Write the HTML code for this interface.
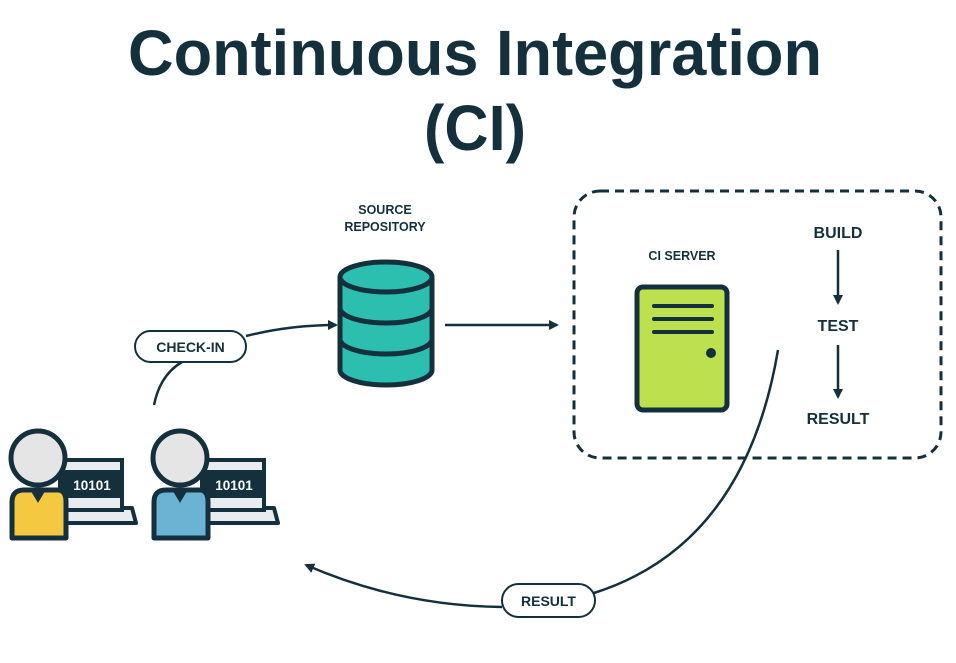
<!DOCTYPE html>
<html><head><meta charset="utf-8"><style>
html,body{margin:0;padding:0;background:#fff;}
svg{display:block;}
text{font-family:"Liberation Sans",Arial,sans-serif;font-weight:bold;fill:#14303d;}
</style></head><body>
<svg width="956" height="663" viewBox="0 0 956 663" xmlns="http://www.w3.org/2000/svg">
<defs>
<marker id="ah" markerWidth="10" markerHeight="10" refX="8" refY="5" orient="auto" markerUnits="userSpaceOnUse">
<path d="M0,0 L10,5 L0,10 z" fill="#14303d"/>
</marker>
</defs>
<text x="475" y="75" font-size="64" text-anchor="middle" textLength="694" lengthAdjust="spacingAndGlyphs">Continuous Integration</text>
<text x="475" y="150" font-size="64" text-anchor="middle" textLength="102" lengthAdjust="spacingAndGlyphs">(CI)</text>

<!-- dashed box -->
<rect x="574" y="191" width="367" height="267" rx="26" fill="none" stroke="#14303d" stroke-width="3" stroke-dasharray="9,6"/>

<!-- source repo -->
<text x="385" y="214" font-size="12.5" text-anchor="middle">SOURCE</text>
<text x="385" y="231" font-size="12.5" text-anchor="middle">REPOSITORY</text>
<g stroke="#14303d" stroke-width="5" fill="#2cbfb0">
<path d="M340,277 L340,370 A46,15 0 0 0 432,370 L432,277"/>
<path d="M340,308 A46,15 0 0 0 432,308" fill="none"/>
<path d="M340,339 A46,15 0 0 0 432,339" fill="none"/>
<ellipse cx="386" cy="277" rx="46" ry="15"/>
</g>
<line x1="445" y1="325" x2="557" y2="325" stroke="#14303d" stroke-width="2.5" marker-end="url(#ah)"/>

<!-- CI server -->
<text x="682" y="260" font-size="12.5" text-anchor="middle">CI SERVER</text>
<rect x="637" y="287" width="90" height="123" rx="6" fill="#bde04f" stroke="#14303d" stroke-width="5"/>
<g stroke="#14303d" stroke-width="4" stroke-linecap="round">
<line x1="654" y1="306" x2="712" y2="306"/>
<line x1="654" y1="319" x2="712" y2="319"/>
<line x1="654" y1="332" x2="712" y2="332"/>
</g>
<circle cx="711" cy="353" r="5" fill="#14303d"/>

<text x="838" y="238" font-size="16" text-anchor="middle">BUILD</text>
<line x1="838" y1="250" x2="838" y2="303" stroke="#14303d" stroke-width="2.5" marker-end="url(#ah)"/>
<text x="838" y="331" font-size="16" text-anchor="middle">TEST</text>
<line x1="838" y1="345" x2="838" y2="397" stroke="#14303d" stroke-width="2.5" marker-end="url(#ah)"/>
<text x="838" y="424" font-size="16" text-anchor="middle">RESULT</text>

<!-- check-in -->
<path d="M154,405 Q160,375 182,362" fill="none" stroke="#14303d" stroke-width="2.5"/>
<path d="M246,336 Q290,325 336,325" fill="none" stroke="#14303d" stroke-width="2.5" marker-end="url(#ah)"/>
<rect x="135" y="331" width="111" height="31" rx="15.5" fill="#fff" stroke="#14303d" stroke-width="2"/>
<text x="190.5" y="352" font-size="14" text-anchor="middle">CHECK-IN</text>

<!-- result return -->
<path d="M778,350 Q745,545 594,593" fill="none" stroke="#14303d" stroke-width="2.5"/>
<path d="M502,607 Q400,606 306,565" fill="none" stroke="#14303d" stroke-width="2.5" marker-end="url(#ah)"/>
<rect x="502" y="584" width="93" height="33" rx="16.5" fill="#fff" stroke="#14303d" stroke-width="2"/>
<text x="548.5" y="606" font-size="14" text-anchor="middle">RESULT</text>

<!-- persons -->
<g id="p1">
<path d="M60,508 L132,508 L136,523 L56,523 z" fill="#e8ecef" stroke="#14303d" stroke-width="4" stroke-linejoin="round"/>
<rect x="60" y="460" width="62" height="50" fill="#e8ecef" stroke="#14303d" stroke-width="4"/>
<rect x="60" y="470" width="62" height="28" fill="#14303d"/>
<text x="92" y="490" font-size="13.5" text-anchor="middle" style="fill:#fff">10101</text>
<path d="M12,538 L12,502 Q12,490 24,490 L58,490 Q66,490 66,502 L66,538 z" fill="#f5c842" stroke="#14303d" stroke-width="5" stroke-linejoin="round"/>
<path d="M32,490 L38,500 L44,490" fill="#14303d" stroke="#14303d" stroke-width="3"/>
<circle cx="38" cy="458" r="27" fill="#e5e5e5" stroke="#14303d" stroke-width="5"/>
</g>
<g transform="translate(142,0)">
<path d="M60,508 L132,508 L136,523 L56,523 z" fill="#e8ecef" stroke="#14303d" stroke-width="4" stroke-linejoin="round"/>
<rect x="60" y="460" width="62" height="50" fill="#e8ecef" stroke="#14303d" stroke-width="4"/>
<rect x="60" y="470" width="62" height="28" fill="#14303d"/>
<text x="92" y="490" font-size="13.5" text-anchor="middle" style="fill:#fff">10101</text>
<path d="M12,538 L12,502 Q12,490 24,490 L58,490 Q66,490 66,502 L66,538 z" fill="#6ab3d3" stroke="#14303d" stroke-width="5" stroke-linejoin="round"/>
<path d="M32,490 L38,500 L44,490" fill="#14303d" stroke="#14303d" stroke-width="3"/>
<circle cx="38" cy="458" r="27" fill="#e5e5e5" stroke="#14303d" stroke-width="5"/>
</g>
</svg>
</body></html>
